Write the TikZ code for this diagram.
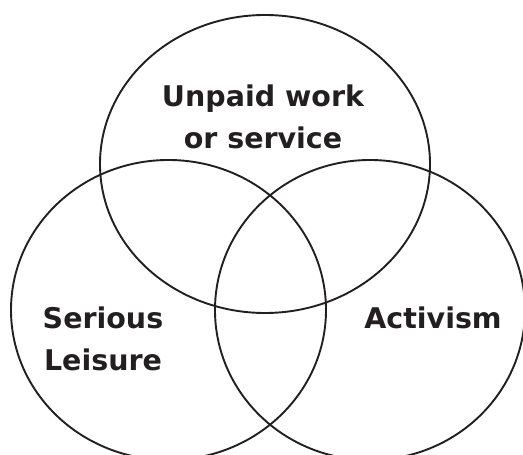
\documentclass[tikz,border=0pt]{standalone}
\usepackage{fontspec}
\setmainfont{DejaVu Sans}
\definecolor{ink}{HTML}{231F20}
\begin{document}
\begin{tikzpicture}[x=1pt,y=1pt,
  ring/.style={draw=ink,line width=1.9pt},
  lbl/.style={text=ink,font=\bfseries\fontsize{28.5}{42}\selectfont,align=center,inner sep=0pt}]
\useasboundingbox (0,0) rectangle (523,455);
\begin{scope}
\clip (0,0) rectangle (523,455);
\draw[ring] (265,291) ellipse [x radius=165,y radius=149];
\draw[ring] (168.5,145) ellipse [x radius=157.5,y radius=150];
\draw[ring] (370,145) ellipse [x radius=155,y radius=150];
\end{scope}
\node[lbl] (unpaid) at (263,338) {Unpaid work\\or service};
\node[lbl] (serious) at (103,116) {Serious\\Leisure};
\node[lbl] (activism) at (433,137) {Activism};
\end{tikzpicture}
\end{document}
